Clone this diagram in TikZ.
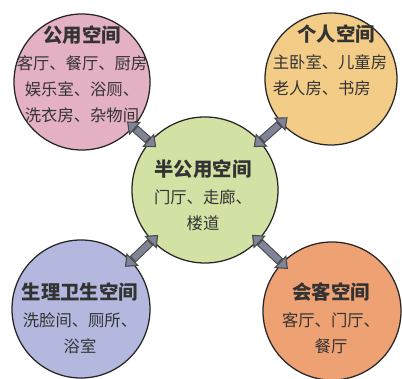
\documentclass[tikz,border=0pt]{standalone}
\usepackage{fontspec}
\setmainfont{Noto Sans CJK SC}
\usepackage{xcolor}
\usetikzlibrary{arrows.meta}

\definecolor{gongyong}{RGB}{228,176,196}
\definecolor{geren}{RGB}{243,204,136}
\definecolor{bangong}{RGB}{210,226,164}
\definecolor{weisheng}{RGB}{180,184,222}
\definecolor{huike}{RGB}{238,162,116}
\definecolor{arrgray}{RGB}{128,132,152}

\newcommand{\ttl}{\fontsize{13.8}{19}\selectfont\bfseries}

\tikzset{
  space/.style={circle, draw=black!85, line width=0.9pt, fill=#1, inner sep=0pt},
  txt/.style={align=center, text=black!80, font=\fontsize{11.6}{18.4}\selectfont, inner sep=0pt},
  linktip/.tip={Triangle[length=0.27cm,width=0.44cm,fill=arrgray,line width=0.8pt 0 0]},
  link/.style={draw=black!70, line width=6pt, linktip-linktip,
    shorten <=-0.22cm, shorten >=-0.22cm,
    postaction={draw=arrgray, line width=4.4pt, -, shorten <=0.08cm, shorten >=0.08cm}}
}

\begin{document}
\begin{tikzpicture}[x=0.025cm,y=-0.025cm]
\useasboundingbox (0,0) rectangle (402,379);
% the five spaces
\node[space=gongyong, minimum size=3.4cm] (gy) at (82,82) {};
\node[space=geren, minimum size=3.3cm] (gr) at (331,79) {};
\node[space=bangong, minimum size=3.65cm] (bg) at (205,190) {};
\node[space=weisheng, minimum size=3.45cm] (ws) at (81,309) {};
\node[space=huike, minimum size=3.45cm] (hk) at (332,311) {};
% links to the middle
\foreach \s in {gy,gr,ws,hk}
  \draw[link] (\s) -- (bg);
% texts
\node[txt] (gy-t) at (82,74) {{\ttl 公用空间}\\[1pt] 客厅、餐厅、厨房\\ 娱乐室、浴厕、\\ 洗衣房、杂物间};
\node[txt, align=left] (gr-t) at (330,60) {\hspace*{1.5em}{\ttl 个人空间}\\[1pt] 主卧室、儿童房\\ 老人房、书房};
\node[txt] (bg-t) at (203,195) {{\ttl 半公用空间}\\[1pt] 门厅、走廊、\\ 楼道};
\node[txt] (ws-t) at (80,318) {{\ttl 生理卫生空间}\\[1pt] 洗脸间、厕所、\\ 浴室};
\node[txt] (hk-t) at (331,318) {{\ttl 会客空间}\\[1pt] 客厅、门厅、\\ 餐厅};
\end{tikzpicture}
\end{document}
